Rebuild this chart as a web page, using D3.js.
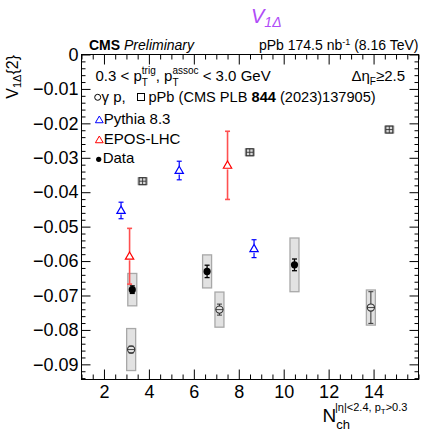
<!DOCTYPE html>
<html>
<head>
<meta charset="utf-8">
<script src="https://cdn.jsdelivr.net/npm/d3@7"></script>
<style>
  body { margin: 0; background: #fff; }
  text { font-family: "Liberation Sans", Arial, sans-serif; white-space: pre; }
</style>
</head>
<body>
<div id="chart"></div>
<script>
// values
const pPbNch = [3.72, 8.49, 14.7];
const pPbV = [-0.0368, -0.0284, -0.0218];

const gpNch = [3.21, 7.14, 13.88];
const gpV = [-0.0857, -0.0741, -0.0735];
const gpStat = [0.0010, 0.0016, 0.0046];
const gpSys = [0.0061, 0.0051, 0.0051];

const dataNch = [3.26, 6.59, 10.48];
const dataV = [-0.0683, -0.0630, -0.0611];
const dataStat = [0.0011, 0.0018, 0.0017];
const dataSys = [0.0047, 0.0048, 0.0078];

const pythiaNch = [2.76, 5.35, 8.68];
const pythiaV = [-0.0453, -0.0337, -0.0564];
const pythiaErr = [0.0024, 0.0027, 0.0026];

const eposNch = [3.14, 7.5];
const eposV = [-0.0586, -0.0322];
const eposErr = [0.0081, 0.0099];

const xTicks = [2, 4, 6, 8, 10, 12, 14];
const yTicks = [0, -0.01, -0.02, -0.03, -0.04, -0.05, -0.06, -0.07, -0.08, -0.09];

const W = 423, H = 433;
const svg = d3.select('#chart').append('svg')
    .attr('width', W)
    .attr('height', H);

const x = d3.scaleLinear().domain([1, 16]).range([81.5, 418.5]);
const y = d3.scaleLinear().domain([0, -0.0944]).range([54.5, 379.5]);

const xMinor = d3.range(1, 16.01, 0.5).filter(v => !xTicks.includes(v));
const yMinor = d3.range(0, -0.0944, -0.002).map(v => +v.toFixed(3))
    .filter(v => !yTicks.some(t => Math.abs(t - v) < 1e-6));

// axes, ROOT style ticks pointing inward on all four sides
const axes = svg.append('g');
const fmt = d => d === 0 ? '0' : d3.format('.2f')(d);

axes.append('g')
    .attr('transform', `translate(0, ${y.range()[1]})`)
    .call(d3.axisBottom(x).tickValues(xTicks).tickSizeInner(-10).tickSizeOuter(0).tickPadding(6));
axes.append('g')
    .attr('transform', `translate(0, ${y.range()[1]})`)
    .call(d3.axisBottom(x).tickValues(xMinor).tickSizeInner(-5).tickSizeOuter(0).tickFormat(''));
axes.append('g')
    .attr('transform', `translate(0, ${y.range()[0]})`)
    .call(d3.axisTop(x).tickValues(xTicks).tickSizeInner(-10).tickSizeOuter(0).tickFormat(''));
axes.append('g')
    .attr('transform', `translate(0, ${y.range()[0]})`)
    .call(d3.axisTop(x).tickValues(xMinor).tickSizeInner(-5).tickSizeOuter(0).tickFormat(''));

axes.append('g')
    .attr('transform', `translate(${x.range()[0]}, 0)`)
    .call(d3.axisLeft(y).tickValues(yTicks).tickSizeInner(-9).tickSizeOuter(0).tickPadding(3).tickFormat(fmt));
axes.append('g')
    .attr('transform', `translate(${x.range()[0]}, 0)`)
    .call(d3.axisLeft(y).tickValues(yMinor).tickSizeInner(-4).tickSizeOuter(0).tickFormat(''));
axes.append('g')
    .attr('transform', `translate(${x.range()[1]}, 0)`)
    .call(d3.axisRight(y).tickValues(yTicks).tickSizeInner(-9).tickSizeOuter(0).tickFormat(''));
axes.append('g')
    .attr('transform', `translate(${x.range()[1]}, 0)`)
    .call(d3.axisRight(y).tickValues(yMinor).tickSizeInner(-4).tickSizeOuter(0).tickFormat(''));

axes.selectAll('.domain').remove();
axes.selectAll('.tick line').attr('stroke', '#000');
axes.selectAll('.tick text')
    .attr('fill', '#000')
    .style('font-size', '18px')
    .style('font-family', '"Liberation Sans", Arial, sans-serif');

svg.append('rect')
    .attr('x', x.range()[0])
    .attr('y', y.range()[0])
    .attr('width', x.range()[1] - x.range()[0])
    .attr('height', y.range()[1] - y.range()[0])
    .attr('fill', 'none')
    .attr('stroke', '#000');

// helpers
const plot = svg.append('g');
const boxHalf = 0.2;

function sysBoxes(nch, v, sys) {
    plot.selectAll(null)
        .data(nch.map((n, i) => ({ n, v: v[i], s: sys[i] })))
        .join('rect')
        .attr('x', d => x(d.n - boxHalf))
        .attr('y', d => y(d.v + d.s))
        .attr('width', d => x(d.n + boxHalf) - x(d.n - boxHalf))
        .attr('height', d => y(d.v - d.s) - y(d.v + d.s))
        .attr('fill', '#e2e2e2')
        .attr('stroke', '#a8a8a8')
        .attr('stroke-width', 1.3);
}

function errBars(nch, v, err, color, gap, width) {
    const g = plot.append('g').attr('stroke', color).attr('stroke-width', width || 1.2);
    nch.forEach((n, i) => {
        const cx = x(n), top = y(v[i] + err[i]), bot = y(v[i] - err[i]), cy = y(v[i]);
        if (cy - gap > top) g.append('line').attr('x1', cx).attr('x2', cx).attr('y1', top).attr('y2', cy - gap);
        if (cy + gap < bot) g.append('line').attr('x1', cx).attr('x2', cx).attr('y1', cy + gap).attr('y2', bot);
        g.append('line').attr('x1', cx - 2.5).attr('x2', cx + 2.5).attr('y1', top).attr('y2', top);
        g.append('line').attr('x1', cx - 2.5).attr('x2', cx + 2.5).attr('y1', bot).attr('y2', bot);
    });
}

const tri = d3.symbol(d3.symbolTriangle, 30);

function triangles(nch, v, color) {
    plot.selectAll(null)
        .data(nch.map((n, i) => ({ n, v: v[i] })))
        .join('path')
        .attr('d', tri)
        .attr('transform', d => `translate(${x(d.n)}, ${y(d.v) + 0.5})`)
        .attr('fill', '#fff')
        .attr('stroke', color)
        .attr('stroke-width', 1.2);
}

// systematic boxes
sysBoxes(gpNch, gpV, gpSys);
sysBoxes(dataNch, dataV, dataSys);

// pPb open squares
pPbNch.forEach((n, i) => {
    const cx = x(n), cy = y(pPbV[i]);
    plot.append('rect').attr('x', cx - 4.5).attr('y', cy - 3.5).attr('width', 9).attr('height', 7)
        .attr('fill', '#d8d8d8').attr('stroke', '#999');
    plot.append('rect').attr('x', cx - 3.5).attr('y', cy - 3.5).attr('width', 7).attr('height', 7)
        .attr('fill', 'none').attr('stroke', '#333').attr('stroke-width', 1.1);
    plot.append('line').attr('x1', cx - 3.5).attr('x2', cx + 3.5).attr('y1', cy).attr('y2', cy)
        .attr('stroke', '#333').attr('stroke-width', 0.9);
    plot.append('line').attr('x1', cx).attr('x2', cx).attr('y1', cy - 3.5).attr('y2', cy + 3.5)
        .attr('stroke', '#333').attr('stroke-width', 0.9);
});

// gamma-p open circles
errBars(gpNch, gpV, gpStat, '#333', 3.5, 1);
gpNch.forEach((n, i) => {
    const cx = x(n), cy = y(gpV[i]);
    plot.append('circle').attr('cx', cx).attr('cy', cy).attr('r', 3.6)
        .attr('fill', 'none').attr('stroke', '#333').attr('stroke-width', 1.1);
    plot.append('line').attr('x1', cx - 3.6).attr('x2', cx + 3.6).attr('y1', cy).attr('y2', cy)
        .attr('stroke', '#333').attr('stroke-width', 0.9);
});

// data
errBars(dataNch, dataV, dataStat, '#000', 0, 1.3);
plot.selectAll(null)
    .data(dataNch.map((n, i) => ({ n, v: dataV[i] })))
    .join('circle')
    .attr('cx', d => x(d.n))
    .attr('cy', d => y(d.v))
    .attr('r', 3.6)
    .attr('fill', '#000');

// models
errBars(pythiaNch, pythiaV, pythiaErr, '#0000ff', 4, 1.2);
triangles(pythiaNch, pythiaV, '#0000ff');
errBars(eposNch, eposV, eposErr, '#ff5050', 4, 1.6);
triangles(eposNch, eposV, '#ff0000');

// rich text: parts laid out left to right; a part marked stack shares its x
// with the following part, which then advances by the wider of the two
function rich(x0, y0, parts, anchor, rotate) {
    const g = svg.append('g');
    let cx = 0, stackW = 0;
    parts.forEach(p => {
        const t = g.append('text')
            .attr('x', cx)
            .attr('y', p.dy || 0)
            .style('font-size', p.s + 'px')
            .style('font-weight', p.b ? 'bold' : 'normal')
            .style('font-style', p.i ? 'italic' : 'normal')
            .attr('fill', p.c || '#000')
            .text(p.t);
        const w = t.node().getComputedTextLength();
        if (p.stack) {
            stackW = w;
        } else {
            cx += Math.max(w, stackW);
            stackW = 0;
        }
    });
    const off = anchor === 'end' ? -cx : anchor === 'middle' ? -cx / 2 : 0;
    g.attr('transform', `translate(${x0}, ${y0})${rotate ? ` rotate(${rotate})` : ''} translate(${off}, 0)`);
    return g;
}

// title
rich(251, 23, [
    { t: 'V', s: 20, i: true, c: '#b04cf7' },
    { t: '1Δ', s: 14, i: true, dy: 3.5, c: '#b04cf7' }
]);

// header
rich(89, 50, [
    { t: 'CMS', s: 14, b: true },
    { t: ' Preliminary', s: 14, i: true }
]);
rich(418.5, 50, [
    { t: 'pPb 174.5 nb', s: 14 },
    { t: '-1', s: 9, dy: -5 },
    { t: ' (8.16 TeV)', s: 14 }
], 'end');

// legend
rich(95.5, 80.5, [
    { t: '0.3 < p', s: 15 },
    { t: 'trig', s: 10, dy: -7, stack: true },
    { t: 'T', s: 10, dy: 5 },
    { t: ', p', s: 15 },
    { t: 'assoc', s: 10, dy: -7, stack: true },
    { t: 'T', s: 10, dy: 5 },
    { t: ' < 3.0 GeV', s: 15 }
]);

rich(405, 80.5, [
    { t: 'Δη', s: 15 },
    { t: 'F', s: 10, dy: 4 },
    { t: '≥2.5', s: 15 }
], 'end');

svg.append('circle').attr('cx', 97.7).attr('cy', 97.3).attr('r', 3)
    .attr('fill', 'none').attr('stroke', '#000');
rich(101.5, 101.7, [{ t: 'γ p,', s: 15 }]);
svg.append('rect').attr('x', 137.5).attr('y', 93.5).attr('width', 7).attr('height', 7)
    .attr('fill', 'none').attr('stroke', '#000');
rich(148.5, 101.7, [
    { t: 'pPb (CMS PLB ', s: 14.6 },
    { t: '844', s: 14.6, b: true },
    { t: ' (2023)137905)', s: 14.6 }
]);

svg.append('path').attr('d', d3.symbol(d3.symbolTriangle, 26))
    .attr('transform', 'translate(99.3, 120.5)')
    .attr('fill', 'none').attr('stroke', '#0000ff');
rich(103.7, 124, [{ t: 'Pythia 8.3', s: 15 }]);

svg.append('path').attr('d', d3.symbol(d3.symbolTriangle, 26))
    .attr('transform', 'translate(99.3, 140.5)')
    .attr('fill', 'none').attr('stroke', '#ff0000');
rich(103.7, 144.3, [{ t: 'EPOS-LHC', s: 15 }]);

svg.append('circle').attr('cx', 98.7).attr('cy', 159.3).attr('r', 2.6).attr('fill', '#000');
rich(102.7, 163.3, [{ t: 'Data', s: 15 }]);

// axis titles
rich(17.5, 55, [
    { t: 'V', s: 16 },
    { t: '1Δ', s: 11, dy: 3.5 },
    { t: '{2}', s: 16 }
], 'end', -90);

rich(322.5, 422, [
    { t: 'N', s: 19 },
    { t: 'ch', s: 13, dy: 7 }
]);
rich(335, 410.5, [
    { t: '|η|<2.4, p', s: 11 },
    { t: 'T', s: 8, dy: 3 },
    { t: '>0.3', s: 11 }
]);
</script>
</body>
</html>
